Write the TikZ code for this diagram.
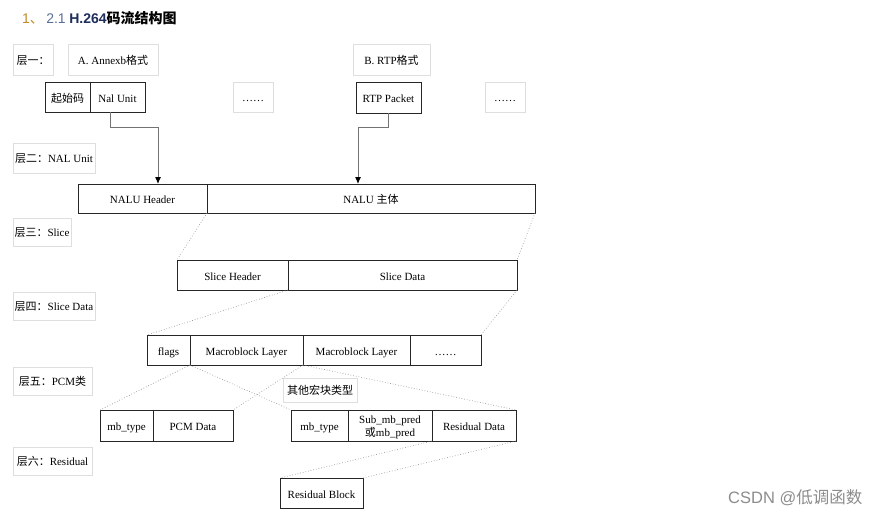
\documentclass[tikz,border=0pt]{standalone}
\usepackage{fontspec}
\setmainfont{Liberation Serif}
\newfontfamily\cjk{Noto Sans CJK SC}
\newfontfamily\titlefont{Liberation Sans}
\usetikzlibrary{arrows.meta}
\begin{document}
\begin{tikzpicture}[x=1pt,y=-1pt,
  box/.style={draw=black!85, line width=1pt, anchor=north west, inner sep=0pt, outer sep=0pt,
    align=center, text height=10pt, text depth=0pt, font=\fontsize{11}{11}\selectfont},
  lbl/.style={draw=black!13, line width=0.9pt, anchor=north west, inner sep=0pt, outer sep=0pt,
    align=center, text height=9pt, text depth=0pt, font=\fontsize{11}{12}\selectfont},
  conn/.style={draw=black!55, line width=1pt, -{Latex[length=7pt,width=6pt,black]}},
  dot/.style={draw=black!40, line width=0.7pt, dotted}]
\useasboundingbox (0,0) rectangle (880,517);
% title
\node[anchor=west, inner sep=0pt] (title) at (22,18) {\fontsize{14}{16}\selectfont
  {\titlefont\color[HTML]{C08A2A}1}{\cjk\color[HTML]{C08A2A}、}\,{\titlefont\color[HTML]{5A6F96}2.1} {\titlefont\bfseries\color[HTML]{1F2D5A}H.264}{\cjk\bfseries 码流结构图}};
% label boxes
\node[lbl, minimum width=40, minimum height=31] (l1) at (13,44) {{\cjk 层一：}};
\node[lbl, minimum width=90, minimum height=31] (annexb) at (68,44) {A. Annexb{\cjk 格式}};
\node[lbl, minimum width=77, minimum height=31] (rtpfmt) at (353,44) {B. RTP{\cjk 格式}};
\node[lbl, minimum width=40, minimum height=30] (dots1) at (233,82) {……};
\node[lbl, minimum width=40, minimum height=30] (dots2) at (485,82) {……};
\node[lbl, minimum width=82, minimum height=30] (l2) at (13,143) {{\cjk 层二：}NAL Unit};
\node[lbl, minimum width=58, minimum height=28] (l3) at (13,218) {{\cjk 层三：}Slice};
\node[lbl, minimum width=82, minimum height=28] (l4) at (13,292) {{\cjk 层四：}Slice Data};
\node[lbl, minimum width=79, minimum height=28] (l5) at (13,367) {{\cjk 层五：}PCM{\cjk 类}};
\node[lbl, minimum width=74, minimum height=24] (other) at (283,378) {{\cjk 其他宏块类型}};
\node[lbl, minimum width=79, minimum height=28] (l6) at (13,447) {{\cjk 层六：}Residual};
% dark boxes
\node[box, minimum width=45, minimum height=30] (start) at (45,82) {{\cjk 起始码}};
\node[box, minimum width=55, minimum height=30] (nal) at (90,82) {Nal Unit};
\node[box, minimum width=65, minimum height=31] (rtp) at (356,82) {RTP Packet};
\node[box, minimum width=129, minimum height=29] (naluh) at (78,184) {NALU Header};
\node[box, minimum width=328, minimum height=29] (nalub) at (207,184) {NALU {\cjk 主体}};
\node[box, minimum width=111, minimum height=30] (sh) at (177,260) {Slice Header};
\node[box, minimum width=229, minimum height=30] (sd) at (288,260) {Slice Data};
\node[box, minimum width=43, minimum height=30] (flags) at (147,335) {flags};
\node[box, minimum width=113, minimum height=30] (mb1) at (190,335) {Macroblock Layer};
\node[box, minimum width=107, minimum height=30] (mb2) at (303,335) {Macroblock Layer};
\node[box, minimum width=71, minimum height=30] (mbd) at (410,335) {……};
\node[box, minimum width=53, minimum height=31] (mt1) at (100,410) {mb\_type};
\node[box, minimum width=80, minimum height=31] (pcm) at (153,410) {PCM Data};
\node[box, minimum width=57, minimum height=31] (mt2) at (291,410) {mb\_type};
\node[box, minimum width=84, minimum height=31, text height=22pt, text depth=0pt] (sub) at (348,410) {Sub\_mb\_pred\\[0pt]{\cjk 或}mb\_pred};
\node[box, minimum width=84, minimum height=31] (res) at (432,410) {Residual Data};
\node[box, minimum width=83, minimum height=30] (rb) at (280,478) {Residual Block};
% arrows
\coordinate (a0) at (110,112);
\coordinate (a1) at (158,184);
\coordinate (b1) at (358,184);
\draw[conn] (a0) -- ++(0,15) -| (a1);
\draw[conn] (rtp.south) -- ++(0,14) -| (b1);
% dotted expansion lines
\draw[dot] (nalub.south west) -- (sh.north west);
\draw[dot] (nalub.south east) -- (sd.north east);
\draw[dot] (sh.south east) -- (flags.north west);
\draw[dot] (sd.south east) -- (mbd.north east);
\draw[dot] (mb1.south west) -- (mt1.north west);
\draw[dot] (mb1.south east) -- (pcm.north east);
\draw[dot] (mb1.south west) -- (mt2.north west);
\draw[dot] (mb1.south east) -- (res.north east);
\draw[dot] (res.south west) -- (rb.north west);
\draw[dot] (res.south east) -- (rb.north east);
% watermark
\node[anchor=west, inner sep=0pt, text=black!45] (wm) at (728,498) {\fontsize{16.5}{18}\selectfont\titlefont CSDN @{\cjk 低调函数}};
\end{tikzpicture}
\end{document}
